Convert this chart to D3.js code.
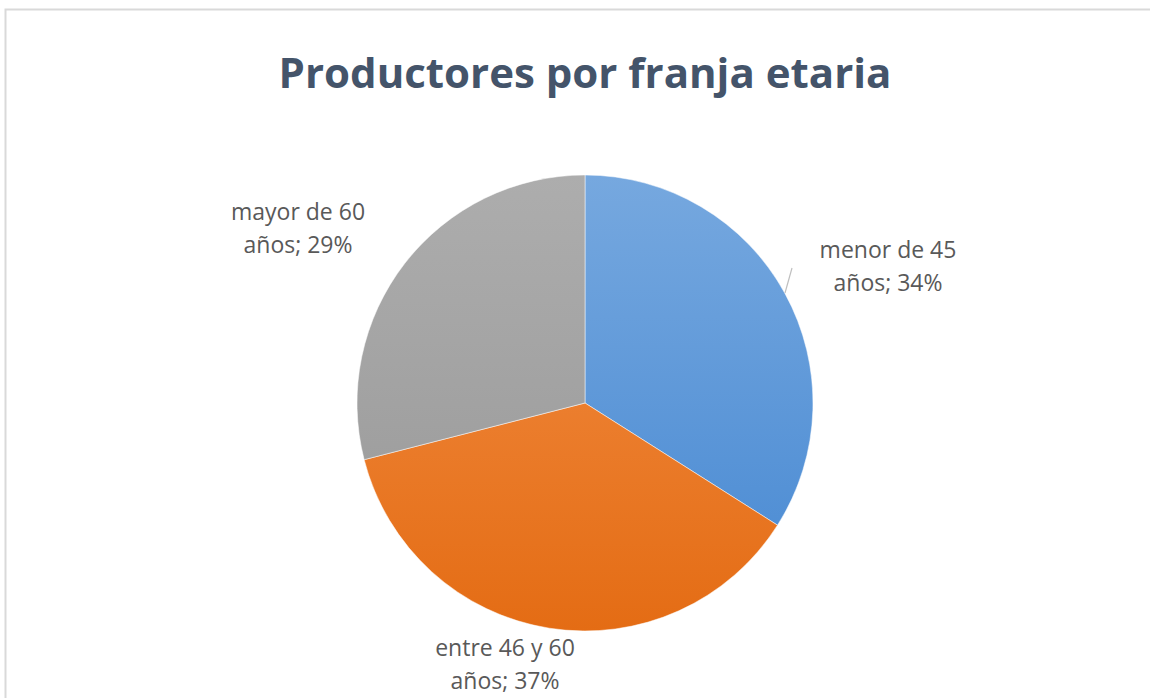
<!DOCTYPE html>
<html>
<head>
<meta charset="utf-8">
<script src="https://cdn.jsdelivr.net/npm/d3@7"></script>
<style>
  body { margin: 0; background: #fff; }
  svg { display: block; }
</style>
</head>
<body>
<div id="chart"></div>
<script>
const title = "Productores por franja etaria";
const categories = ["menor de 45 años", "entre 46 y 60 años", "mayor de 60 años"];
const labelLines = [["menor de 45", "años; 34%"], ["entre 46 y 60", "años; 37%"], ["mayor de 60", "años; 29%"]];
const values = [34, 37, 29];
const colorsTop = ["#76a8df", "#f39048", "#adadad"];
const colorsBottom = ["#4688d2", "#e46c14", "#979797"];

const width = 1150, height = 698;
const cx = 585, cy = 403, radius = 228;

// where excel put the data labels (first baseline, text centre), relative to pie centre
const labelPos = [[303, -145], [-80, 253], [-287, -183]];

const svg = d3.select("#chart").append("svg")
    .attr("width", width)
    .attr("height", height);

// chart frame
svg.append("rect")
    .attr("x", 5.5).attr("y", 9.5)
    .attr("width", width + 10).attr("height", height + 10)
    .attr("fill", "#fff")
    .attr("stroke", "#d9d9d9")
    .attr("stroke-width", 2);

svg.append("text")
    .attr("x", cx).attr("y", 88)
    .attr("text-anchor", "middle")
    .style("font-family", "'Open Sans', sans-serif")
    .style("font-weight", 700)
    .style("font-size", "42px")
    .style("fill", "#44546a")
    .text(title);

const defs = svg.append("defs");
values.forEach((v, i) => {
    const grad = defs.append("linearGradient")
        .attr("id", "grad" + i)
        .attr("gradientUnits", "userSpaceOnUse")
        .attr("x1", 0).attr("y1", -radius)
        .attr("x2", 0).attr("y2", radius);
    grad.append("stop").attr("offset", "0%").attr("stop-color", colorsTop[i]);
    grad.append("stop").attr("offset", "100%").attr("stop-color", colorsBottom[i]);
});

const pie = d3.pie().sort(null).value(d => d);
const arc = d3.arc().innerRadius(0).outerRadius(radius);

const g = svg.append("g").attr("transform", `translate(${cx},${cy})`);

const arcs = pie(values);

g.selectAll("path.slice")
    .data(arcs)
    .join("path")
    .attr("class", "slice")
    .attr("d", arc)
    .attr("fill", (d, i) => `url(#grad${i})`)
    .attr("stroke", "#fff")
    .attr("stroke-width", 0.5);

// small leader line for the first label
g.append("line")
    .attr("x1", 200).attr("y1", -110)
    .attr("x2", 207).attr("y2", -135)
    .attr("stroke", "#bfbfbf")
    .attr("stroke-width", 1.2);

const labels = g.selectAll("text.lbl")
    .data(arcs)
    .join("text")
    .attr("class", "lbl")
    .attr("text-anchor", "middle")
    .attr("transform", (d, i) => `translate(${labelPos[i][0]},${labelPos[i][1]})`)
    .style("font-family", "'Open Sans', sans-serif")
    .style("font-size", "23px")
    .style("fill", "#595959");

labels.selectAll("tspan")
    .data((d, i) => labelLines[i])
    .join("tspan")
    .attr("x", 0)
    .attr("y", (d, j) => j * 33)
    .text(d => d);
</script>
</body>
</html>
